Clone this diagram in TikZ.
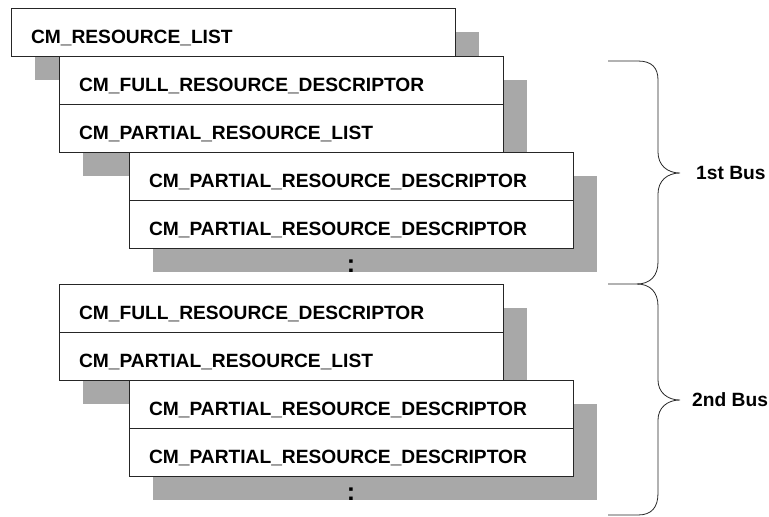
\documentclass[tikz,border=0pt]{standalone}
\usepackage{fontspec}
\setmainfont{Liberation Sans}
\usetikzlibrary{positioning,shadows}

\begin{document}
\begin{tikzpicture}[
  x=1pt, y=-1pt,
  font=\fontsize{19.2}{22}\selectfont\bfseries,
  rec/.style={draw=black!85, line width=0.9pt, fill=white, text width=404pt,
              minimum height=48pt, inner xsep=20pt, inner ysep=0pt, outer sep=0pt,
              text height=22pt, text depth=0pt, align=left,
              general shadow={fill=black!34, shadow xshift=24pt, shadow yshift=-24pt}},
  more/.style={inner sep=0pt, font=\fontsize{25}{25}\selectfont\bfseries},
  bus/.style={anchor=west, inner sep=0pt},
  brace/.style={draw=black!85, line width=0.8pt},
]
\useasboundingbox (0,0) rectangle (769,517);
% ---------- resource list ----------
\node[rec, anchor=north west] (rlist) at (11,8) {CM\_RESOURCE\_LIST};
% ---------- 1st bus ----------
\node[rec, anchor=north west] (full1) at (59,56) {CM\_FULL\_RESOURCE\_DESCRIPTOR};
\node[rec, below=0pt of full1] (plist1) {CM\_PARTIAL\_RESOURCE\_LIST};
\node[rec, anchor=north west] (pdesc1a) at (129,152) {CM\_PARTIAL\_RESOURCE\_DESCRIPTOR};
\node[rec, below=0pt of pdesc1a] (pdesc1b) {CM\_PARTIAL\_RESOURCE\_DESCRIPTOR};
\node[more, below=12pt of pdesc1b] (dots1) {:};
% ---------- 2nd bus ----------
\node[rec, anchor=north west] (full2) at (59,284) {CM\_FULL\_RESOURCE\_DESCRIPTOR};
\node[rec, below=0pt of full2] (plist2) {CM\_PARTIAL\_RESOURCE\_LIST};
\node[rec, anchor=north west] (pdesc2a) at (129,380) {CM\_PARTIAL\_RESOURCE\_DESCRIPTOR};
\node[rec, below=0pt of pdesc2a] (pdesc2b) {CM\_PARTIAL\_RESOURCE\_DESCRIPTOR};
\node[more, below=12pt of pdesc2b] (dots2) {:};
% ---------- braces ----------
\coordinate (b1top) at (608,61);
\coordinate (b1tip) at (680,173);
\coordinate (join) at (637,284);
\coordinate (tick) at (608,284);
\coordinate (b2tip) at (680,400);
\coordinate (b2bot) at (608,515);
\draw[brace] (b1top) -- (638,61) .. controls (652,61) and (658,68) .. (658,80)
  -- (658,152) .. controls (658,165) and (667,173) .. (b1tip)
  .. controls (667,173) and (658,181) .. (658,194)
  -- (658,262) .. controls (658,276) and (650,284) .. (join);
\draw[brace] (tick) -- (join) .. controls (650,284) and (658,292) .. (658,306)
  -- (658,380) .. controls (658,392) and (667,400) .. (b2tip)
  .. controls (667,400) and (658,408) .. (658,420)
  -- (658,493) .. controls (658,507) and (652,515) .. (638,515) -- (b2bot);
\node[bus] (bus1) at (696,173) {1st Bus};
\node[bus] (bus2) at (692,400) {2nd Bus};
\end{tikzpicture}
\end{document}
